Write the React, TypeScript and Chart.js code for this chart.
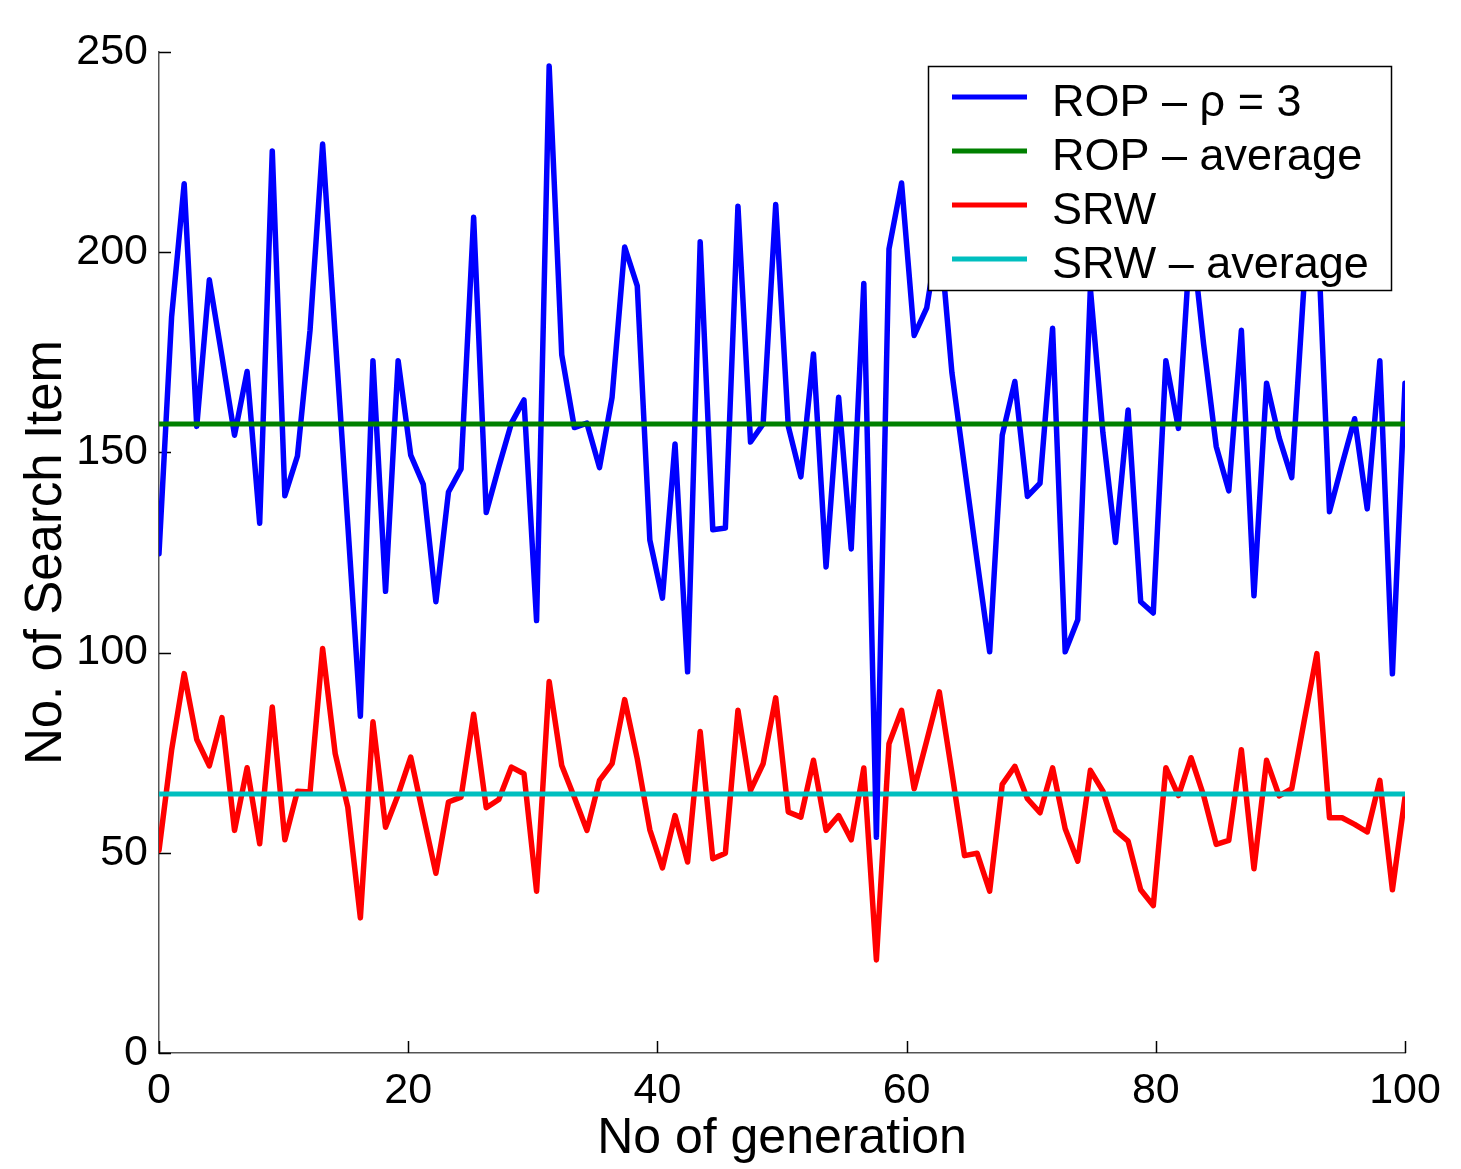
import React, { useEffect, useRef } from 'react';
import { Chart, registerables } from 'chart.js';

Chart.register(...registerables);

// ---- data ----
const ropValues = [
  124.7, 183.8, 217.1, 156.5, 193.1, 174, 154.3, 170.2, 132.3, 225.3,
  139.2, 149.1, 180.5, 227, 179, 132, 84.1, 172.9, 115.3, 172.9,
  149.3, 142, 112.7, 140.1, 145.9, 208.7, 135, 146.4, 157.3, 163.1,
  108, 246.5, 174.4, 156.2, 157.3, 146.2, 163.8, 201.3, 191.6, 128.1,
  113.6, 152.1, 95.2, 202.6, 130.7, 131.1, 211.5, 152.6, 157.1, 211.9,
  156.5, 143.9, 174.6, 121.4, 163.8, 125.9, 192.2, 53.9, 200.8, 217.3,
  179.2, 186.1, 206, 169.9, 146.4, 123, 100.2, 154.3, 167.7, 139,
  142.3, 181, 100.2, 108.2, 191, 154.8, 127.5, 160.6, 112.7, 109.9,
  172.9, 156, 206, 177, 151.5, 140.4, 180.5, 114.2, 167.3, 153.7,
  143.7, 193, 210, 135.2, 147, 158.4, 135.9, 172.9, 94.7, 167.3,
];

const srwValues = [
  50.6, 75.6, 94.75, 78.3, 71.7, 83.75, 55.6, 71.25, 52.25, 86.4,
  53.25, 65.4, 65.2, 101, 74.75, 61.4, 33.75, 82.7, 56.4, 64.5,
  73.9, 59.3, 44.9, 62.7, 63.9, 84.6, 61.25, 63.3, 71.4, 69.75,
  40.4, 92.8, 71.8, 63.9, 55.6, 68.1, 72.25, 88.25, 73.5, 55.75,
  46.25, 59.3, 47.7, 80.3, 48.5, 49.9, 85.6, 65.6, 72.25, 88.7,
  60.2, 58.9, 73.1, 55.6, 59.3, 53.25, 71.2, 23.25, 77.25, 85.6,
  66, 78, 90.2, 70, 49.3, 49.9, 40.4, 67.1, 71.6, 63.5,
  60, 71.2, 56, 47.9, 70.6, 65.4, 55.6, 52.9, 40.75, 36.8,
  71.25, 64.3, 73.75, 64.3, 52.1, 53.1, 75.75, 46, 73.1, 64.2,
  66, 83.1, 99.75, 58.75, 58.75, 57.1, 55.2, 68.1, 40.75, 63.9,
];

const ropAverage = 157.1;
const srwAverage = 64.7;

const xTicks = [0, 20, 40, 60, 80, 100];
const yTicks = [0, 50, 100, 150, 200, 250];

const seriesLabels = ['ROP \u2013 \u03c1 = 3', 'ROP \u2013 average', 'SRW', 'SRW \u2013 average'];
const seriesColors = ['#0000ff', '#008000', '#ff0000', '#00bfbf'];

const xTitle = 'No of generation';
const yTitle = 'No. of Search Item';

const X_MIN = 0;
const X_MAX = 100;
const Y_MIN = 0;
const Y_MAX = 250;

const FONT = '"Liberation Sans", Arial, Helvetica, sans-serif';

// sampling grid of the generations (evenly spaced from X_MIN to X_MAX)
const generationX = ropValues.map((_, i) => X_MIN + (i * (X_MAX - X_MIN)) / (ropValues.length - 1));

const inwardTicks = {
  id: 'inwardTicks',
  beforeDatasetsDraw(chart: any) {
    const { ctx, chartArea, scales } = chart;
    ctx.save();
    ctx.strokeStyle = '#000';
    ctx.lineWidth = 1.5;
    ctx.beginPath();
    yTicks.forEach((v) => {
      const y = Math.round(scales.y.getPixelForValue(v)) + 0.5;
      ctx.moveTo(chartArea.left, y);
      ctx.lineTo(chartArea.left + 12, y);
    });
    xTicks.forEach((v) => {
      const x = Math.round(scales.x.getPixelForValue(v)) + 0.5;
      ctx.moveTo(x, chartArea.bottom);
      ctx.lineTo(x, chartArea.bottom - 12);
    });
    ctx.stroke();
    ctx.restore();
  },
};

const legendBox = {
  id: 'legendBox',
  afterDraw(chart: any) {
    const { ctx, chartArea } = chart;
    const w = 463;
    const h = 224;
    const x0 = chartArea.right - 14 - w;
    const y0 = chartArea.top + 14;
    ctx.save();
    ctx.fillStyle = '#fff';
    ctx.fillRect(x0, y0, w, h);
    ctx.strokeStyle = '#000';
    ctx.lineWidth = 1.5;
    ctx.strokeRect(x0 + 0.5, y0 + 0.5, w, h);
    const legendOrder = [0, 1, 2, 3];
    legendOrder.forEach((di, row) => {
      const ds = chart.data.datasets[di];
      const y = y0 + 31 + row * 54;
      ctx.strokeStyle = ds.borderColor;
      ctx.lineWidth = 5;
      ctx.lineCap = 'butt';
      ctx.beginPath();
      ctx.moveTo(x0 + 24, y);
      ctx.lineTo(x0 + 99, y);
      ctx.stroke();
      ctx.fillStyle = '#000';
      ctx.font = `45px ${FONT}`;
      ctx.textAlign = 'left';
      ctx.textBaseline = 'alphabetic';
      ctx.fillText(ds.label, x0 + 124, y + 19);
    });
    ctx.restore();
  },
};

export default function App() {
  const canvasRef = useRef<HTMLCanvasElement | null>(null);

  useEffect(() => {
    if (!canvasRef.current) return;
    Chart.defaults.font.family = FONT;
    const lineCommon = {
      borderWidth: 5.5,
      pointRadius: 0,
      pointHoverRadius: 0,
      tension: 0,
      fill: false,
      borderJoinStyle: 'round' as const,
      borderCapStyle: 'round' as const,
    };
    const chart = new Chart(canvasRef.current, {
      type: 'line',
      data: {
        datasets: [
          {
            ...lineCommon,
            label: seriesLabels[0],
            data: ropValues.map((v, i) => ({ x: generationX[i], y: v })),
            borderColor: seriesColors[0],
            order: 1,
          },
          {
            ...lineCommon,
            label: seriesLabels[1],
            data: [
              { x: X_MIN, y: ropAverage },
              { x: X_MAX, y: ropAverage },
            ],
            borderColor: seriesColors[1],
            borderWidth: 5,
            borderCapStyle: 'butt',
            order: 0,
          },
          {
            ...lineCommon,
            label: seriesLabels[2],
            data: srwValues.map((v, i) => ({ x: generationX[i], y: v })),
            borderColor: seriesColors[2],
            order: 3,
          },
          {
            ...lineCommon,
            label: seriesLabels[3],
            data: [
              { x: X_MIN, y: srwAverage },
              { x: X_MAX, y: srwAverage },
            ],
            borderColor: seriesColors[3],
            borderWidth: 5,
            borderCapStyle: 'butt',
            order: 2,
          },
        ],
      },
      options: {
        animation: false,
        responsive: false,
        devicePixelRatio: 1,
        layout: { padding: { left: 0, right: 56, top: 52, bottom: 0 } },
        plugins: {
          legend: { display: false },
          tooltip: { enabled: false },
          title: { display: false },
        },
        scales: {
          x: {
            type: 'linear',
            min: X_MIN,
            max: X_MAX,
            afterBuildTicks: (s: any) => {
              s.ticks = xTicks.map((v) => ({ value: v }));
            },
            afterFit: (s: any) => {
              s.height = 116;
            },
            ticks: {
              autoSkip: false,
              maxRotation: 0,
              color: '#000',
              padding: 12,
              font: { size: 43, family: FONT },
            },
            grid: { display: false, drawTicks: false },
            border: { display: true, color: '#555', width: 1.5 },
            title: {
              display: true,
              text: xTitle,
              color: '#000',
              font: { size: 50, family: FONT },
              padding: { top: 0, bottom: 0 },
            },
          },
          y: {
            type: 'linear',
            min: Y_MIN,
            max: Y_MAX,
            afterBuildTicks: (s: any) => {
              s.ticks = yTicks.map((v) => ({ value: v }));
            },
            afterFit: (s: any) => {
              s.width = 159;
            },
            ticks: {
              autoSkip: false,
              color: '#000',
              padding: 11,
              font: { size: 43, family: FONT },
            },
            grid: { display: false, drawTicks: false },
            border: { display: true, color: '#555', width: 1.5 },
            title: {
              display: true,
              text: yTitle,
              color: '#000',
              font: { size: 51, family: FONT },
              padding: { top: 16, bottom: 0 },
            },
          },
        },
      },
      plugins: [inwardTicks, legendBox],
    });
    return () => chart.destroy();
  }, []);

  return (
    <div style={{ position: 'fixed', left: 0, top: 0, width: 1461, height: 1169, background: '#fff' }}>
      <canvas ref={canvasRef} width={1461} height={1169} style={{ display: 'block' }} />
    </div>
  );
}
